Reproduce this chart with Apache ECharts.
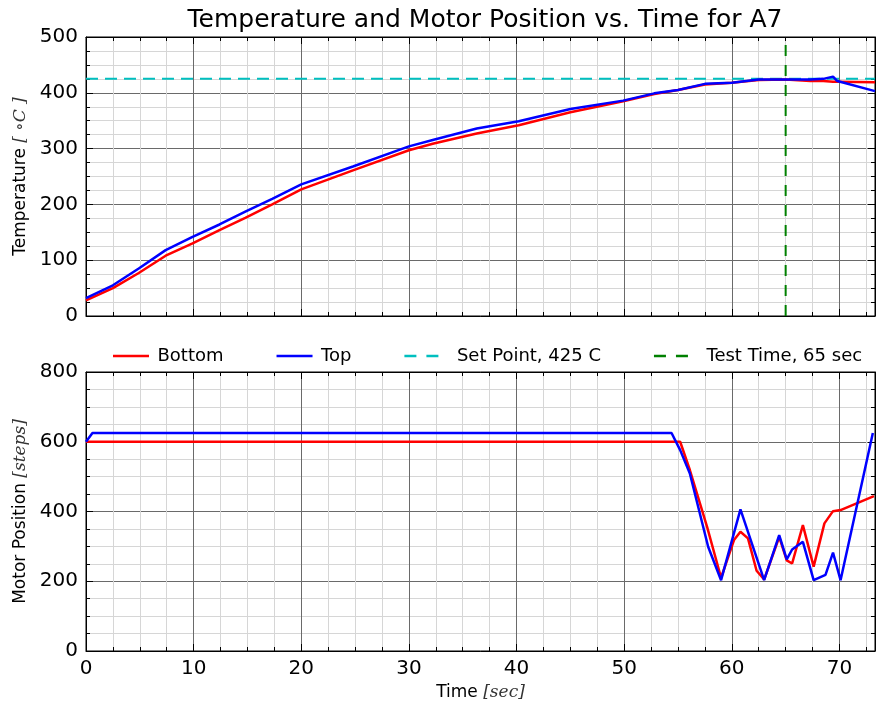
<!DOCTYPE html>
<html>
<head>
<meta charset="utf-8">
<script src="https://cdn.jsdelivr.net/npm/echarts@6/dist/echarts.min.js"></script>
<style>
  html, body { margin: 0; padding: 0; background: #fff; }
  #chart { width: 877px; height: 710px; }
</style>
</head>
<body>
<div id="chart"></div>
<script>
// Temperature readings (deg C) over time (sec)
const tempTime   = [0, 2.5, 4.9, 7.4, 9.9, 12.4, 14.8, 17.3, 20, 24.8, 30, 32.3, 36.3, 40.2, 45, 49.9, 52.8, 55, 57.5, 60, 62.5, 65, 67.3, 68.5, 69.4, 69.8, 73.3];
const tempBottom = [28, 50, 77, 108, 130, 154, 176, 200, 227, 261, 297, 309, 327, 342, 365, 385, 398, 405, 415, 418, 423, 424, 421, 421, 420, 420, 419];
const tempTop    = [32, 55, 85, 118, 142, 164, 187, 210, 236, 268, 304, 316, 336, 349, 371, 386, 399, 405, 416, 418, 424, 424, 424, 425, 429, 421, 403];

// Motor positions (steps) over time (sec)
const motorTimeBottom = [0, 55.2, 56.1, 57.7, 59.0, 60.2, 60.8, 61.5, 62.3, 63.0, 64.4, 65.1, 65.6, 66.6, 67.6, 68.6, 69.4, 70.1, 73.2];
const motorBottom     = [600, 600, 519, 356, 210, 318, 342, 323, 230, 205, 327, 260, 251, 361, 242, 366, 401, 404, 444];
const motorTimeTop    = [0, 0.6, 54.4, 55.2, 56.1, 57.8, 59.0, 60.8, 63.0, 64.4, 65.1, 65.6, 66.6, 67.6, 68.7, 69.4, 70.1, 73.1];
const motorTop        = [600, 625, 625, 576, 509, 299, 203, 406, 203, 332, 263, 291, 313, 203, 218, 282, 203, 625];

// Reference values
const setPoint = 425;
const testTime = 65;

// Axis ranges and tick spacing
const timeMin = 0, timeMax = 73.3, timeStep = 10;
const tempMin = 0, tempMax = 500, tempStep = 100;
const motorMin = 0, motorMax = 800, motorStep = 200;

const pairs = (xs, ys) => xs.map((x, i) => [x, ys[i]]);

const FONT = 'DejaVu Sans';
const majorGrid = { show: true, lineStyle: { color: '#6a6a6a', width: 1 } };
const minorGrid = { show: true, lineStyle: { color: '#d6d6d6', width: 1 } };
const minorTick = { show: true, splitNumber: 4, length: 4, lineStyle: { color: '#000' } };
const axisTick = { show: true, inside: true, length: 7, lineStyle: { color: '#000' } };

// Legend glyphs: a solid stroke and a two-dash stroke
const SOLID_ICON = 'path://M0,0H36V2.5H0Z';
const DASH_ICON = 'path://M0,0H12V2.5H0Z M22,0H34V2.5H22Z';

function timeAxis(gridIndex, showLabels, extra) {
  return Object.assign({
    type: 'value', gridIndex, min: timeMin, max: timeMax, interval: timeStep,
    axisLine: { show: true, onZero: false, lineStyle: { color: '#000', width: 1 } },
    axisTick, minorTick: Object.assign({}, minorTick),
    splitLine: majorGrid, minorSplitLine: minorGrid,
    axisLabel: { show: showLabels, fontFamily: FONT, fontSize: 20, color: '#000', margin: 8,
                 showMaxLabel: false }
  }, extra || {});
}
function mirrorTimeAxis(gridIndex) {
  return {
    type: 'value', gridIndex, position: 'top', min: timeMin, max: timeMax, interval: timeStep,
    axisLine: { show: true, onZero: false, lineStyle: { color: '#000' } },
    axisTick, minorTick: Object.assign({}, minorTick),
    splitLine: { show: false }, axisLabel: { show: false }
  };
}
function valueAxis(gridIndex, min, max, step, name) {
  return {
    type: 'value', gridIndex, min, max, interval: step,
    axisLine: { show: true, onZero: false, lineStyle: { color: '#000', width: 1 } },
    axisTick, minorTick: Object.assign({}, minorTick),
    splitLine: majorGrid, minorSplitLine: minorGrid,
    axisLabel: { fontFamily: FONT, fontSize: 20, color: '#000', margin: 8 },
    name, nameLocation: 'middle', nameGap: 56,
    nameTextStyle: {
      rich: {
        a: { fontFamily: FONT, fontSize: 17, color: '#000' },
        b: { fontFamily: 'DejaVu Serif', fontStyle: 'italic', fontSize: 17, color: '#333' }
      }
    }
  };
}
function mirrorValueAxis(gridIndex, min, max, step) {
  return {
    type: 'value', gridIndex, position: 'right', min, max, interval: step,
    axisLine: { show: true, onZero: false, lineStyle: { color: '#000' } },
    axisTick, minorTick: Object.assign({}, minorTick),
    splitLine: { show: false }, axisLabel: { show: false }
  };
}

const lineBase = { type: 'line', symbol: 'none', showSymbol: false, smooth: false, animation: false };

const option = {
  animation: false,
  backgroundColor: '#fff',
  title: {
    text: 'Temperature and Motor Position vs. Time for A7',
    left: 480, top: 3, textAlign: 'center',
    textStyle: { fontFamily: FONT, fontSize: 25, fontWeight: 'normal', color: '#000' }
  },
  legend: {
    left: 108, top: 342, itemWidth: 37, itemHeight: 2.5, itemGap: 53,
    textStyle: { fontFamily: FONT, fontSize: 18, color: '#000', padding: [0, 0, 0, 3] },
    data: [
      { name: 'Bottom', icon: SOLID_ICON },
      { name: 'Top', icon: SOLID_ICON },
      { name: 'Set Point, 425 C', icon: DASH_ICON, textStyle: { padding: [0, 0, 0, 12] } },
      { name: 'Test Time, 65 sec', icon: DASH_ICON, textStyle: { padding: [0, 0, 0, 12] } }
    ]
  },
  grid: [
    { left: 86, right: 2, top: 37, height: 279, show: true, borderColor: '#000', borderWidth: 1 },
    { left: 86, right: 2, top: 372, height: 279, show: true, borderColor: '#000', borderWidth: 1 }
  ],
  xAxis: [
    timeAxis(0, false),
    timeAxis(1, true, {
      name: '{a|Time }{b|[sec]}', nameLocation: 'middle', nameGap: 33,
      nameTextStyle: {
        rich: {
          a: { fontFamily: FONT, fontSize: 17, color: '#000' },
          b: { fontFamily: 'DejaVu Serif', fontStyle: 'italic', fontSize: 17, color: '#333' }
        }
      }
    }),
    mirrorTimeAxis(0),
    mirrorTimeAxis(1)
  ],
  yAxis: [
    valueAxis(0, tempMin, tempMax, tempStep, '{a|Temperature }{b|[ ∘C ]}'),
    valueAxis(1, motorMin, motorMax, motorStep, '{a|Motor Position }{b|[steps]}'),
    mirrorValueAxis(0, tempMin, tempMax, tempStep),
    mirrorValueAxis(1, motorMin, motorMax, motorStep)
  ],
  series: [
    Object.assign({}, lineBase, {
      name: 'Bottom', xAxisIndex: 0, yAxisIndex: 0, color: '#ff0000',
      lineStyle: { color: '#ff0000', width: 2.5 }, data: pairs(tempTime, tempBottom), z: 3
    }),
    Object.assign({}, lineBase, {
      name: 'Top', xAxisIndex: 0, yAxisIndex: 0, color: '#0000ff',
      lineStyle: { color: '#0000ff', width: 2.5 }, data: pairs(tempTime, tempTop), z: 4
    }),
    Object.assign({}, lineBase, {
      name: 'Set Point, 425 C', xAxisIndex: 0, yAxisIndex: 0, color: '#00bfbf',
      lineStyle: { color: '#00bfbf', width: 2, type: [12, 7] },
      data: [[timeMin, setPoint], [timeMax, setPoint]], z: 2
    }),
    Object.assign({}, lineBase, {
      name: 'Test Time, 65 sec', xAxisIndex: 0, yAxisIndex: 0, color: '#008000',
      lineStyle: { color: '#008000', width: 2, type: [11, 9] },
      data: [[testTime, tempMin], [testTime, tempMax]], z: 2
    }),
    Object.assign({}, lineBase, {
      name: 'Bottom', xAxisIndex: 1, yAxisIndex: 1, color: '#ff0000',
      lineStyle: { color: '#ff0000', width: 2.5 }, data: pairs(motorTimeBottom, motorBottom), z: 3
    }),
    Object.assign({}, lineBase, {
      name: 'Top', xAxisIndex: 1, yAxisIndex: 1, color: '#0000ff',
      lineStyle: { color: '#0000ff', width: 2.5 }, data: pairs(motorTimeTop, motorTop), z: 4
    })
  ]
};

const chart = echarts.init(document.getElementById('chart'), null, { renderer: 'canvas' });
chart.setOption(option);
</script>
</body>
</html>
